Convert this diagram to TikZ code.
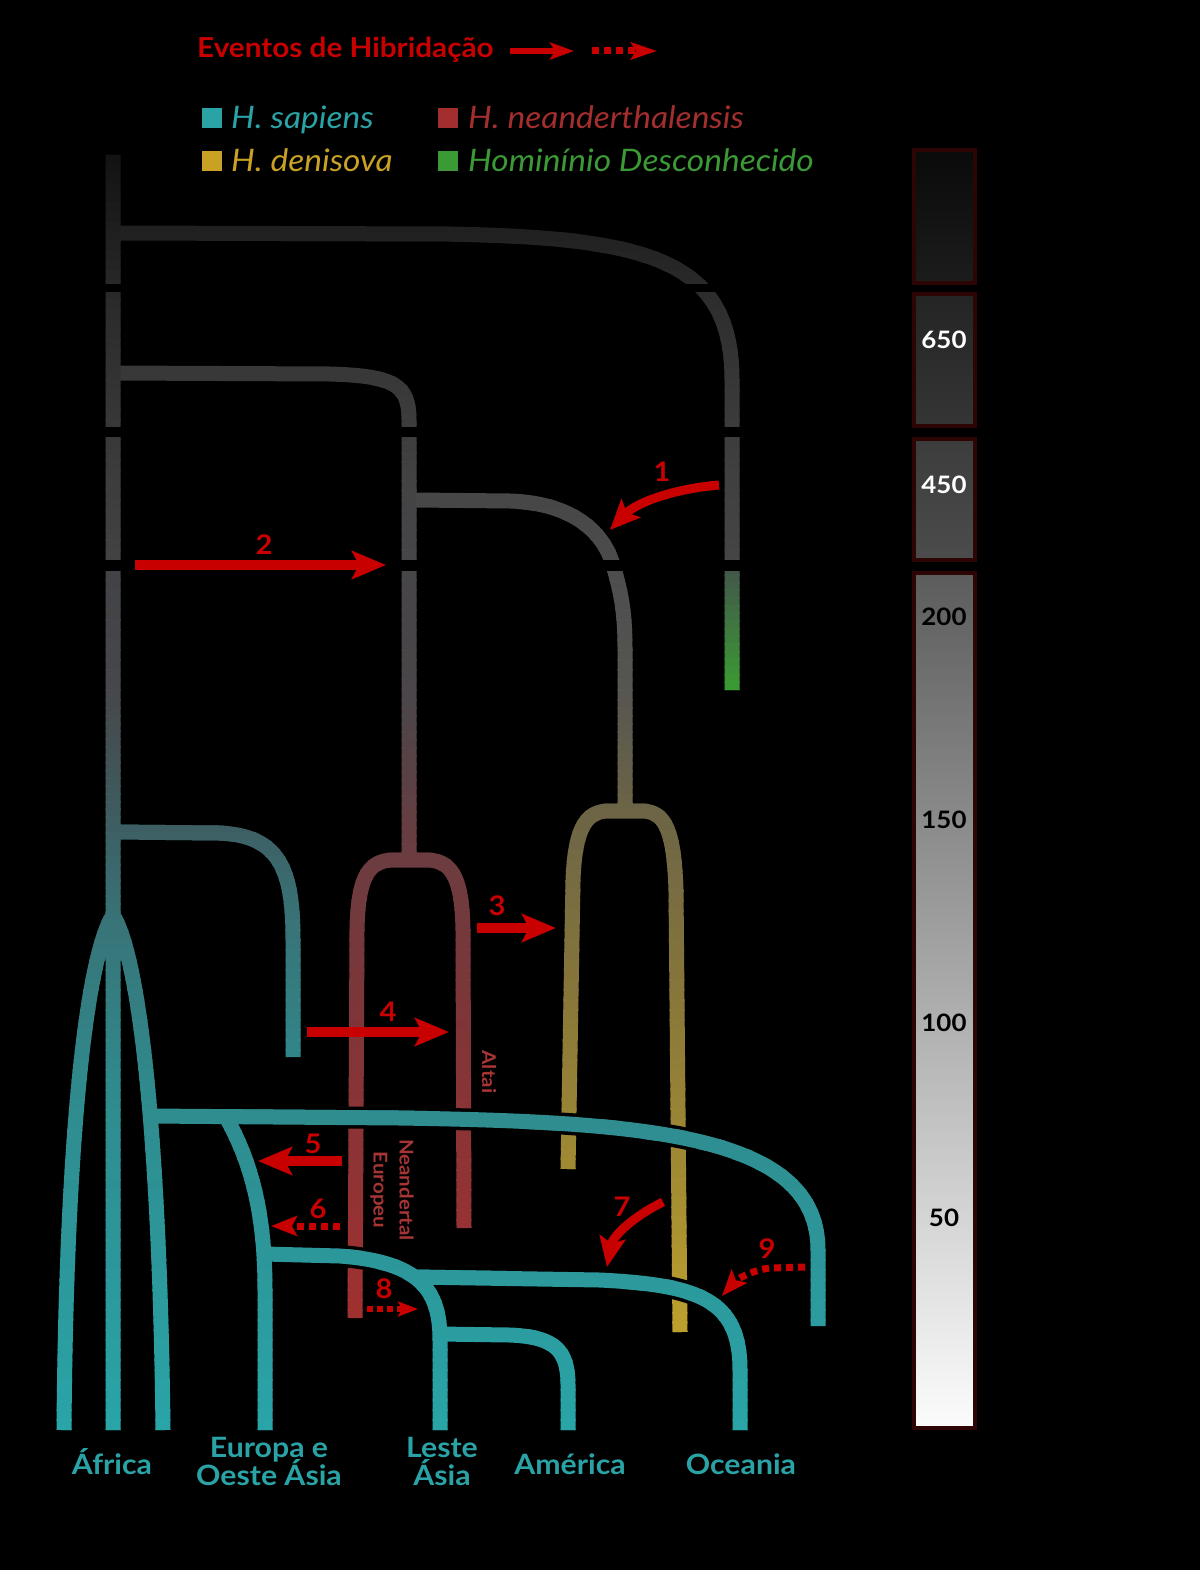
\documentclass[tikz,border=0pt]{standalone}
\usepackage{fontspec}
\setmainfont[FakeStretch=1.08]{Lato}
\usetikzlibrary{arrows.meta}

\definecolor{hred}{HTML}{C80000}
\definecolor{tealtxt}{HTML}{2AA3A6}
\definecolor{neatxt}{HTML}{A32E2E}
\definecolor{dentxt}{HTML}{C9A125}
\definecolor{grntxt}{HTML}{3C9A36}
\definecolor{vlab}{HTML}{A83535}
\definecolor{sbord}{HTML}{2E0505}
\definecolor{b1t}{HTML}{0A0A0A}
\definecolor{b1b}{HTML}{1C1C1C}
\definecolor{b2t}{HTML}{242424}
\definecolor{b2b}{HTML}{353535}
\definecolor{b3t}{HTML}{3C3C3C}
\definecolor{b3b}{HTML}{4C4C4C}
\definecolor{b4t}{HTML}{5C5C5C}
\definecolor{b4b}{HTML}{FCFCFC}
% sapiens lineage
\definecolor{s155}{HTML}{121212}
\definecolor{s300}{HTML}{2A2A2A}
\definecolor{s450}{HTML}{3A3A3C}
\definecolor{s560}{HTML}{424245}
\definecolor{s700}{HTML}{46484B}
\definecolor{s833}{HTML}{3D6064}
\definecolor{s920}{HTML}{387377}
\definecolor{s1100}{HTML}{2F8B8E}
\definecolor{s1430}{HTML}{29A4A7}
% unknown hominin
\definecolor{g233}{HTML}{202020}
\definecolor{g300}{HTML}{2D2D2D}
\definecolor{g450}{HTML}{3E3E3E}
\definecolor{g560}{HTML}{454545}
\definecolor{g575}{HTML}{43594A}
\definecolor{g690}{HTML}{3B9B33}
% neanderthal
\definecolor{n377}{HTML}{383838}
\definecolor{n500}{HTML}{444446}
\definecolor{n700}{HTML}{4A4649}
\definecolor{n860}{HTML}{6C3C40}
\definecolor{n1000}{HTML}{7C3638}
\definecolor{n1100}{HTML}{883436}
\definecolor{n1320}{HTML}{A03030}
% denisova
\definecolor{d500}{HTML}{474747}
\definecolor{d600}{HTML}{4F4F4F}
\definecolor{d700}{HTML}{585650}
\definecolor{d811}{HTML}{6C6446}
\definecolor{d1000}{HTML}{88773A}
\definecolor{d1169}{HTML}{A08A32}
\definecolor{d1332}{HTML}{BEA02E}

\tikzset{
  treeline/.style={line width=15pt, line cap=butt, line join=round},
  halo/.style={draw=black, line width=22pt, line cap=butt},
  pGreen/.style={insert path={(113,233) -- (450,234) .. controls (650,238) and (732,260) .. (732,380) -- (732,690)}},
  pNea/.style={insert path={
     (113,373) -- (330,374) .. controls (395,376) and (409,385) .. (409,420) -- (409,862)
     (410,860) -- (392,860) .. controls (367,861) and (358,880) .. (357,930) -- (355,1318)
     (408,860) -- (428,860) .. controls (453,861) and (462,880) .. (463,930) -- (464,1228)}},
  pDen/.style={insert path={
     (416,500) -- (510,501) .. controls (570,503) and (603,530) .. (613,565) .. controls (622,595) and (625,615) .. (625,650) -- (625,813)
     (626,811) -- (607,811) .. controls (585,812) and (575,830) .. (573,880) -- (568,1169)
     (624,811) -- (643,811) .. controls (665,812) and (674,830) .. (676,890) -- (680,1332)}},
  pBigH/.style={insert path={(150,1116) -- (400,1118) .. controls (650,1122) and (818,1135) .. (818,1250) -- (818,1326)}},
  pEA/.style={insert path={(265,1254) -- (340,1256) .. controls (420,1262) and (440,1290) .. (440,1340) -- (440,1430)}},
  pOce/.style={insert path={(415,1277) -- (600,1280) .. controls (700,1285) and (740,1300) .. (740,1370) -- (740,1430)}},
  pSap/.style={insert path={
     (113,155) -- (113,1430)
     (113,915) .. controls (85,960) and (66,1150) .. (64,1430)
     (113,915) .. controls (141,960) and (160,1150) .. (163,1430)
     (113,832) -- (220,833) .. controls (280,836) and (293,870) .. (293,940) -- (293,1057)
     (226,1117) .. controls (250,1160) and (265,1210) .. (265,1290) -- (265,1430)
     (440,1334) -- (510,1335) .. controls (555,1337) and (568,1350) .. (568,1385) -- (568,1430)
     }, pBigH, pEA, pOce},
  hyb/.style={draw=hred, line width=10pt, line cap=butt, -{Stealth[length=34pt,width=28pt,inset=7pt]}},
  hybc/.style={draw=hred, line width=9pt, line cap=butt, -{Stealth[length=30pt,width=26pt,inset=6pt]}},
  hybd/.style={draw=hred, line width=7pt, line cap=butt, dash pattern=on 7pt off 5pt, -{Stealth[length=26pt,width=20pt,inset=5pt]}},
  hybds/.style={draw=hred, line width=6pt, line cap=butt, dash pattern=on 6pt off 4pt, -{Stealth[length=20pt,width=15pt,inset=4pt]}},
  legsolid/.style={draw=hred, line width=6pt, line cap=butt, -{Stealth[length=24pt,width=17pt,inset=5pt]}},
  legdot/.style={draw=hred, line width=7pt, line cap=butt, dash pattern=on 7pt off 5pt, -{Stealth[length=26pt,width=17pt,inset=5pt]}},
  num/.style={text=hred, font=\fontsize{27}{30}\selectfont\bfseries, inner sep=0pt},
  region/.style={text=tealtxt, font=\fontsize{28}{30}\selectfont\bfseries, inner sep=0pt, anchor=base},
  legtxt/.style={font=\fontsize{31}{36}\selectfont\itshape, inner sep=0pt, anchor=base west},
  scalelab/.style={font=\fontsize{24}{28}\selectfont\bfseries, inner sep=0pt},
  vlabel/.style={text=vlab, font=\fontsize{19}{26}\selectfont\bfseries, inner sep=0pt, rotate=-90, align=center},
  sbox/.style={draw=sbord, line width=4pt},
}

\newcommand\mkgradgroup[2]{%
  \foreach \ya/\yb/\ca/\cb/\st in {#2} {%
    \pgfmathtruncatemacro\nb{max(1,ceil((\yb-\ya)/\st))}%
    \foreach \k in {1,...,\nb} {%
      \pgfmathsetmacro\yt{\ya+(\k-1)*(\yb-\ya)/\nb-0.6}%
      \pgfmathsetmacro\yu{\ya+\k*(\yb-\ya)/\nb+0.6}%
      \pgfmathsetmacro\pc{100*(\k-0.5)/\nb}%
      \begin{scope}
        \clip (0,\yt) rectangle (1200,\yu);
        \draw[treeline, draw={\cb!\pc!\ca}, #1];
      \end{scope}
    }%
  }%
}

\begin{document}
\begin{tikzpicture}[x=1pt,y=-1pt]
\useasboundingbox (0,0) rectangle (1200,1570);
\fill[black] (0,0) rectangle (1200,1570);

\mkgradgroup{pGreen}{0/233/g233/g233/1000, 233/300/g233/g300/10, 300/450/g300/g450/10, 450/560/g450/g560/10, 560/575/g560/g575/5, 575/690/g575/g690/8, 690/1570/g690/g690/1000}
\mkgradgroup{pNea}{0/377/n377/n377/1000, 377/500/n377/n500/10, 500/700/n500/n700/10, 700/860/n700/n860/8, 860/1000/n860/n1000/10, 1000/1100/n1000/n1100/10, 1100/1320/n1100/n1320/10, 1320/1570/n1320/n1320/1000}
\mkgradgroup{pDen}{0/500/d500/d500/1000, 500/600/d500/d600/10, 600/700/d600/d700/10, 700/811/d700/d811/8, 811/1000/d811/d1000/10, 1000/1169/d1000/d1169/10, 1169/1332/d1169/d1332/10, 1332/1570/d1332/d1332/1000}

\draw[halo, pBigH];
\draw[halo, pEA];
\draw[halo, pOce];

\mkgradgroup{pSap}{0/155/s155/s155/1000, 155/300/s155/s300/10, 300/450/s300/s450/10, 450/560/s450/s560/10, 560/700/s560/s700/10, 700/833/s700/s833/8, 833/920/s833/s920/8, 920/1100/s920/s1100/10, 1100/1430/s1100/s1430/10, 1430/1570/s1430/s1430/1000}

\fill[black] (95,283.5) rectangle (760,292);
\fill[black] (95,426.5) rectangle (760,437);
\fill[black] (95,559.5) rectangle (760,571);

\shadedraw[sbox, top color=b1t, bottom color=b1b] (914,150) rectangle (975,283);
\shadedraw[sbox, top color=b2t, bottom color=b2b] (914,294) rectangle (975,426);
\shadedraw[sbox, top color=b3t, bottom color=b3b] (914,439) rectangle (975,560);
\shadedraw[sbox, top color=b4t, bottom color=b4b] (914,573) rectangle (975,1428);
\node[scalelab, text=white] (t650) at (944,340) {650};
\node[scalelab, text=white] (t450) at (944,485) {450};
\node[scalelab, text=black] (t200) at (944,617) {200};
\node[scalelab, text=black] (t150) at (944,820) {150};
\node[scalelab, text=black] (t100) at (944,1023) {100};
\node[scalelab, text=black] (t50) at (944,1218) {50};

\coordinate (a1s) at (719,485); \coordinate (a1e) at (610,530);
\draw[hybc] (a1s) .. controls (672,489) and (636,503) .. (a1e);
\node[num] (n1) at (662,472) {1};
\coordinate (a2s) at (135,565); \coordinate (a2e) at (386,565);
\draw[hyb] (a2s) -- (a2e);
\node[num] (n2) at (264,545) {2};
\coordinate (a3s) at (477,928); \coordinate (a3e) at (556,928);
\draw[hyb] (a3s) -- (a3e);
\node[num] (n3) at (497,906) {3};
\coordinate (a4s) at (307,1032); \coordinate (a4e) at (449,1032);
\draw[hyb] (a4s) -- (a4e);
\node[num] (n4) at (388,1012) {4};
\coordinate (a5s) at (342,1161); \coordinate (a5e) at (258,1161);
\draw[hyb] (a5s) -- (a5e);
\node[num] (n5) at (313,1144) {5};
\coordinate (a6s) at (340,1226); \coordinate (a6e) at (271,1226);
\draw[hybd] (a6s) -- (a6e);
\node[num] (n6) at (318,1209) {6};
\coordinate (a7s) at (663,1202); \coordinate (a7e) at (607,1267);
\draw[hybc] (a7s) .. controls (636,1215) and (613,1235) .. (a7e);
\node[num] (n7) at (622,1207) {7};
\coordinate (a8s) at (367,1309); \coordinate (a8e) at (418,1309);
\draw[hybds] (a8s) -- (a8e);
\node[num] (n8) at (384,1289) {8};
\coordinate (a9s) at (805,1267); \coordinate (a9e) at (722,1296);
\draw[hybd] (a9s) -- (770,1268) .. controls (752,1270) and (736,1280) .. (a9e);
\node[num] (n9) at (767,1249) {9};

\node[vlabel] (altai) at (489,1072) {Altai};
\node[vlabel] (neaeu) at (392,1190) {Neandertal\\Europeu};

\node[region] (afr) at (112,1474) {África};
\node[region] (eur1) at (269,1457) {Europa e};
\node[region] (eur2) at (269,1485) {Oeste Ásia};
\node[region] (eas1) at (442,1457) {Leste};
\node[region] (eas2) at (442,1485) {Ásia};
\node[region] (ame) at (570,1474) {América};
\node[region] (oce) at (741,1474) {Oceania};

\node[font=\fontsize{27.5}{32}\selectfont\bfseries, text=hred, inner sep=0pt, anchor=base west] (title) at (197,58) {Eventos de Hibridação};
\coordinate (l1s) at (510,51); \coordinate (l1e) at (574,51);
\draw[legsolid] (l1s) -- (l1e);
\coordinate (l2s) at (592,51); \coordinate (l2e) at (657,51);
\draw[legdot] (l2s) -- (l2e);

\fill[tealtxt] (202,108) rectangle (222,128);
\node[legtxt, text=tealtxt] (lsap) at (231,129) {H. sapiens};
\fill[dentxt] (202,151) rectangle (222,171);
\node[legtxt, text=dentxt] (lden) at (231,172) {H. denisova};
\fill[neatxt] (438,108) rectangle (458,128);
\node[legtxt, text=neatxt] (lnea) at (468,129) {H. neanderthalensis};
\fill[grntxt] (438,151) rectangle (458,171);
\node[legtxt, text=grntxt] (lgrn) at (468,172) {Hominínio Desconhecido};
\end{tikzpicture}
\end{document}
